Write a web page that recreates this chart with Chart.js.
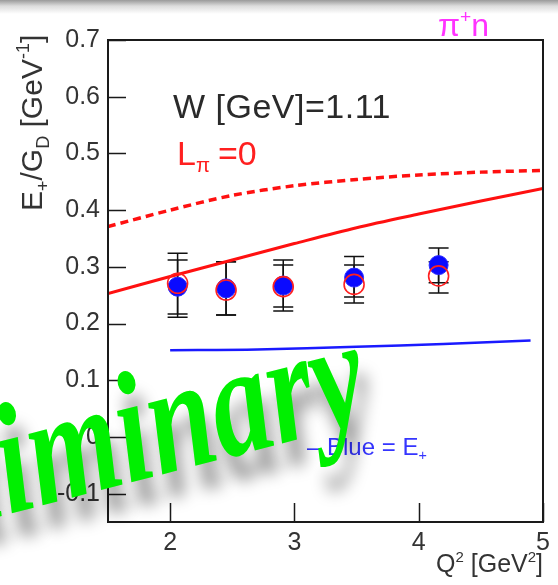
<!DOCTYPE html>
<html>
<head>
<meta charset="utf-8">
<script src="https://cdn.jsdelivr.net/npm/chart.js@4.4.0/dist/chart.umd.min.js"></script>
<style>
  html, body { margin: 0; padding: 0; }
  body { width: 558px; height: 585px; background: #fff linear-gradient(#9a9a9a 0px, #dcdcdc 6px, #ffffff 14px) no-repeat; background-size: 558px 14px; }
  #wrap { position: relative; width: 558px; height: 585px; }
</style>
</head>
<body>
<div id="wrap"><canvas id="chart" width="558" height="585"></canvas></div>
<script>
// measured points (Q^2 in GeV^2)
const q2Points = [2.06, 2.45, 2.91, 3.48, 4.16];
const eBlue = [0.265, 0.262, 0.267, 0.281, 0.303];
const eBlueLow = [0.211, 0.215, 0.222, 0.247, 0.272];
const eBlueHigh = [0.324, 0.309, 0.312, 0.318, 0.333];
const eRed = [0.271, 0.259, 0.265, 0.269, 0.284];
const eRedLow = [0.217, 0.215, 0.229, 0.236, 0.254];
const eRedHigh = [0.312, 0.309, 0.303, 0.303, 0.309];

// model curves
const curveQ2 = [1.5, 2, 2.5, 3, 3.5, 4, 4.5, 5];
const redSolid = [0.253, 0.283, 0.312, 0.341, 0.369, 0.393, 0.416, 0.438];
const redDashed = [0.371, 0.400, 0.426, 0.443, 0.454, 0.462, 0.467, 0.470];
const blueQ2 = [2.0, 2.7, 3.5, 4.2, 4.9];
const blueCurve = [0.153, 0.154, 0.159, 0.164, 0.170];

const xTicks = [2, 3, 4, 5];
const yTicks = [-0.1, 0, 0.1, 0.2, 0.3, 0.4, 0.5, 0.6, 0.7];

function pts(xs, ys) {
    return xs.map((x, i) => ({ x: x, y: ys[i] }));
}

const SANS = "'Liberation Sans', Arial, sans-serif";

// draw a run of [text, kind] pieces; kind: n = normal, sub, sup
function drawRuns(ctx, runs, x, y, size) {
    runs.forEach(r => {
        let s = size, dy = 0;
        if (r[1] === 'sub') { s = size * 0.6; dy = size * 0.22; }
        if (r[1] === 'sup') { s = size * 0.6; dy = -size * 0.42; }
        ctx.font = s + 'px ' + SANS;
        ctx.fillText(r[0], x, y + dy);
        x += ctx.measureText(r[0]).width;
    });
    return x;
}
function runsWidth(ctx, runs, size) {
    let w = 0;
    runs.forEach(r => {
        const s = r[1] === 'n' ? size : size * 0.6;
        ctx.font = s + 'px ' + SANS;
        w += ctx.measureText(r[0]).width;
    });
    return w;
}

const decor = {
    id: 'decor',
    beforeDatasetsDraw(chart) {
        const ctx = chart.ctx, xs = chart.scales.x, ys = chart.scales.y;
        ctx.save();
        ctx.strokeStyle = '#111';
        ctx.lineWidth = 1.5;
        const bars = [[eBlueLow, eBlueHigh], [eRedLow, eRedHigh]];
        bars.forEach(b => {
            q2Points.forEach((q, i) => {
                const px = xs.getPixelForValue(q);
                const lo = ys.getPixelForValue(b[0][i]);
                const hi = ys.getPixelForValue(b[1][i]);
                ctx.beginPath();
                ctx.moveTo(px, lo); ctx.lineTo(px, hi);
                ctx.moveTo(px - 10, lo); ctx.lineTo(px + 10, lo);
                ctx.moveTo(px - 10, hi); ctx.lineTo(px + 10, hi);
                ctx.stroke();
            });
        });
        ctx.restore();
    },
    afterDraw(chart) {
        const ctx = chart.ctx, a = chart.chartArea;
        const xs = chart.scales.x, ys = chart.scales.y;
        ctx.save();
        // frame and inward ticks
        ctx.strokeStyle = '#1a1a1a';
        ctx.lineWidth = 2;
        ctx.strokeRect(a.left, a.top, a.right - a.left, a.bottom - a.top);
        ctx.beginPath();
        yTicks.forEach(v => {
            const py = Math.round(ys.getPixelForValue(v)) + 0.5;
            ctx.moveTo(a.left, py); ctx.lineTo(a.left + 18, py);
        });
        xTicks.forEach(v => {
            const px = Math.round(xs.getPixelForValue(v)) + 0.5;
            ctx.moveTo(px, a.bottom); ctx.lineTo(px, a.bottom - 19);
        });
        ctx.lineWidth = 1.5;
        ctx.stroke();

        ctx.textBaseline = 'alphabetic';
        ctx.textAlign = 'left';

        // in-plot labels
        ctx.fillStyle = '#2a2a2a';
        ctx.font = '34px ' + SANS;
        ctx.letterSpacing = '0.5px';
        ctx.fillText('W [GeV]=1.11', 173, 118);
        ctx.letterSpacing = '0px';
        ctx.fillStyle = '#ff2020';
        drawRuns(ctx, [['L', 'n'], ['\u03c0', 'sub']], 177, 165, 34);
        ctx.font = '34px ' + SANS;
        ctx.fillText('=0', 218, 165);

        ctx.fillStyle = '#ff33ff';
        drawRuns(ctx, [['\u03c0', 'n'], ['+', 'sup'], ['n', 'n']], 438, 36, 32);

        ctx.fillStyle = '#3535ff';
        drawRuns(ctx, [['\u2013 Blue = E', 'n'], ['+', 'sub']], 307, 455, 24);

        // axis titles
        ctx.fillStyle = '#333';
        const qRuns = [['Q', 'n'], ['2', 'sup'], [' [GeV', 'n'], ['2', 'sup'], [']', 'n']];
        const qw = runsWidth(ctx, qRuns, 25);
        drawRuns(ctx, qRuns, 543 - qw, 572, 25);

        ctx.save();
        ctx.translate(42, 211);
        ctx.rotate(-Math.PI / 2);
        drawRuns(ctx, [['E', 'n'], ['+', 'sub'], ['/G', 'n'], ['D', 'sub'], [' [GeV', 'n'], ['-1', 'sup'], [']', 'n']], 0, 0, 30);
        ctx.restore();

        // "Preliminary" stamp
        ctx.save();
        ctx.translate(9, 514);
        ctx.rotate(-0.253);
        ctx.scale(1, 1.35);
        ctx.font = "italic bold 117px 'Liberation Serif', 'Times New Roman', serif";
        ctx.fillStyle = '#00f000';
        ctx.shadowColor = 'rgba(0,0,0,0.4)';
        ctx.shadowBlur = 16;
        ctx.shadowOffsetX = 8;
        ctx.shadowOffsetY = 24;
        ctx.textAlign = 'right';
        ctx.fillText('Prel', 0, 0);
        ctx.textAlign = 'left';
        ctx.fillText('iminary', 0, 0);
        ctx.restore();

        ctx.restore();
    }
};

new Chart(document.getElementById('chart').getContext('2d'), {
    type: 'scatter',
    data: {
        datasets: [
            {
                label: 'red open',
                data: pts(q2Points, eRed),
                pointRadius: 10,
                pointBackgroundColor: 'rgba(0,0,0,0)',
                pointBorderColor: '#ff2020',
                pointBorderWidth: 1.6
            },
            {
                label: 'blue full',
                data: pts(q2Points, eBlue),
                pointRadius: 9.5,
                pointBackgroundColor: '#0a0aff',
                pointBorderColor: '#2a2aff',
                pointBorderWidth: 1
            },
            {
                label: 'L=0 solid',
                data: pts(curveQ2, redSolid),
                showLine: true,
                pointRadius: 0,
                borderColor: '#ff1010',
                borderWidth: 3,
                tension: 0.3
            },
            {
                label: 'L=0 dashed',
                data: pts(curveQ2, redDashed),
                showLine: true,
                pointRadius: 0,
                borderColor: '#ff1010',
                borderWidth: 3.5,
                borderDash: [8, 5],
                tension: 0.3
            },
            {
                label: 'blue curve',
                data: pts(blueQ2, blueCurve),
                showLine: true,
                pointRadius: 0,
                borderColor: '#1a1aff',
                borderWidth: 2.5,
                tension: 0.3
            }
        ]
    },
    options: {
        responsive: false,
        animation: false,
        layout: { padding: { left: 0, top: 40, right: 15, bottom: 0 } },
        plugins: { legend: { display: false }, tooltip: { enabled: false } },
        scales: {
            x: {
                type: 'linear',
                min: 1.5,
                max: 5,
                afterBuildTicks: s => { s.ticks = xTicks.map(v => ({ value: v })); },
                afterFit: s => { s.height = 63; },
                grid: { display: false, drawTicks: false },
                border: { display: false },
                ticks: {
                    padding: 6,
                    color: '#333',
                    font: { family: 'Liberation Sans', size: 25 },
                    maxRotation: 0,
                    callback: v => String(v)
                }
            },
            y: {
                type: 'linear',
                min: -0.15,
                max: 0.7,
                afterBuildTicks: s => { s.ticks = yTicks.map(v => ({ value: v })); },
                afterFit: s => { s.width = 108; },
                grid: { display: false, drawTicks: false },
                border: { display: false },
                ticks: {
                    padding: 8,
                    color: '#333',
                    font: { family: 'Liberation Sans', size: 25 },
                    callback: v => (Math.abs(v) < 1e-9 ? '0' : v.toFixed(1))
                }
            }
        }
    },
    plugins: [decor]
});
</script>
</body>
</html>
